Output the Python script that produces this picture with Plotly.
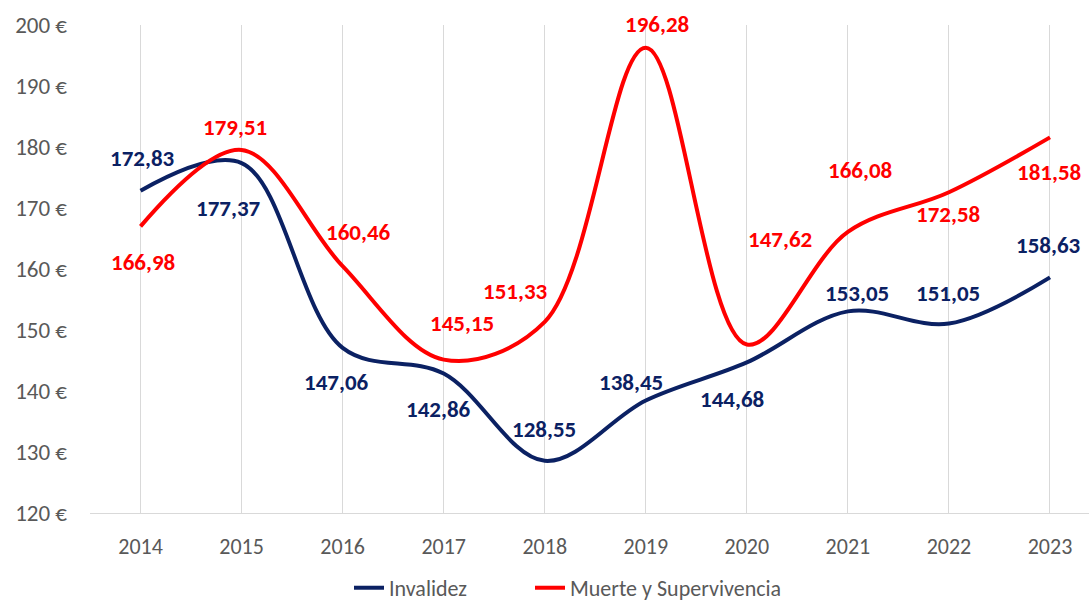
import plotly.graph_objects as go

years = ["2014", "2015", "2016", "2017", "2018", "2019", "2020", "2021", "2022", "2023"]
invalidez = [172.83, 177.37, 147.06, 142.86, 128.55, 138.45, 144.68, 153.05, 151.05, 158.63]
muerte = [166.98, 179.51, 160.46, 145.15, 151.33, 196.28, 147.62, 166.08, 172.58, 181.58]

# label offsets in pixels (dx, dy up)
inv_off = [(2, 33), (-13, -45), (-6, -34), (-5, -35), (-1, 32), (-15, 18), (-15, -37), (9, 18), (-1, 31), (-1, 32)]
mue_off = [(2, -36), (-7, 23), (16, 34), (18, 37), (-29, 31), (11, 24), (33, 106), (12, 62), (-1, -22), (-1, -35)]

NAVY = "#0B2163"
RED = "#FF0000"
GRAY = "#595959"
FONT = "Carlito, Lato, sans-serif"

fig = go.Figure()
fig.add_trace(go.Scatter(x=years, y=invalidez, name="Invalidez", mode="lines", legend="legend",
                         line=dict(color=NAVY, width=4, shape="spline", smoothing=1.0)))
fig.add_trace(go.Scatter(x=years, y=muerte, name="Muerte y Supervivencia", mode="lines", legend="legend2",
                         line=dict(color=RED, width=4, shape="spline", smoothing=1.0)))

def fmt(v):
    return f"{v:.2f}".replace(".", ",")

for vals, offs, col in ((invalidez, inv_off, NAVY), (muerte, mue_off, RED)):
    for i, (v, (dx, dy)) in enumerate(zip(vals, offs)):
        fig.add_annotation(x=i, y=v, xref="x", yref="y", text="<b>" + fmt(v) + "</b>",
                           showarrow=False, xshift=dx, yshift=dy,
                           font=dict(family=FONT, size=23, color=col))

leg_common = dict(orientation="h", xref="container", yref="container", xanchor="left",
                  y=0.033, yanchor="middle", font=dict(family=FONT, size=22, color=GRAY),
                  bgcolor="rgba(0,0,0,0)")

fig.update_layout(
    width=1089, height=608,
    margin=dict(l=90, r=0, t=25, b=95),
    paper_bgcolor="white", plot_bgcolor="white",
    font=dict(family=FONT, color=GRAY, size=22),
    showlegend=True,
    legend=dict(x=349 / 1089, **leg_common),
    legend2=dict(x=530 / 1089, **leg_common),
    xaxis=dict(type="category", range=[-0.5, 9.386], showgrid=True, gridcolor="#D9D9D9", gridwidth=1,
               showline=True, linecolor="#D9D9D9", linewidth=1, ticks="",
               tickfont=dict(family=FONT, size=22, color=GRAY), ticklabelstandoff=14, zeroline=False),
    yaxis=dict(range=[120, 200], dtick=10, showgrid=False, zeroline=False, ticksuffix=" €",
               tickfont=dict(family=FONT, size=23, color=GRAY), ticklabelstandoff=22, showline=False),
)

fig.write_html("out.html")
